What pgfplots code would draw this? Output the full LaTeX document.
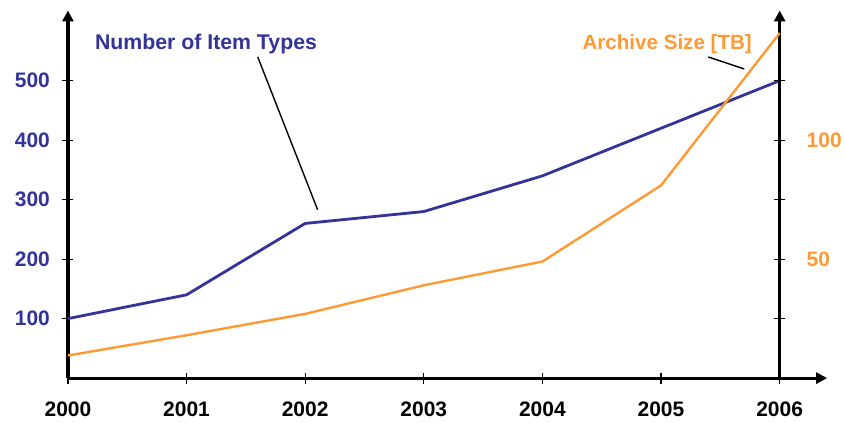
\documentclass[border=0pt]{standalone}
\usepackage{fontspec}
\setmainfont{Liberation Sans}
\usepackage{pgfplots}
\pgfplotsset{compat=1.18}
\usetikzlibrary{arrows.meta}

\definecolor{itemblue}{HTML}{333399}
\definecolor{archorange}{HTML}{FF9933}

\pgfplotstableread{
year items
2000 100
2001 140
2002 260
2003 280
2004 340
2005 420
2006 500
}\itemtypes

\pgfplotstableread{
year tb
2000 9.5
2001 18
2002 27
2003 39
2004 49
2005 81
2006 145
}\archivesize

\tikzset{axarrow/.style={black, line width=3.2pt, -{Triangle[length=11pt,width=11pt]}}}

\begin{document}
\begin{tikzpicture}
\pgfplotsset{
  every axis/.append style={
    scale only axis,
    height=368pt,
    ymin=0,
    tick align=outside,
    major tick length=11pt,
    /pgf/number format/assume math mode=true,
    tick label style={font=\fontsize{21}{25}\selectfont\bfseries},
    every tick/.style={black, line width=1.2pt},
  }
}
\begin{axis}[
  width=760pt,
  xmin=2000, xmax=2006.4,
  ymax=618,
  axis x line=bottom,
  axis y line=left,
  every outer x axis line/.style={draw=none},
  every outer y axis line/.style={draw=none},
  xtick={2000,...,2006},
  xticklabel style={/pgf/number format/1000 sep={}, black, yshift=-15pt},
  ytick={100,200,...,500},
  yticklabel style={color=itemblue, xshift=-9pt},
  clip=false,
]
\draw[axarrow] (rel axis cs:0,0) -- (rel axis cs:1,0);
\draw[axarrow] (rel axis cs:0,0) -- (rel axis cs:0,1);
\addplot[itemblue, line width=2.8pt] table[x=year, y=items] {\itemtypes};
\node[anchor=base west, font=\fontsize{21.3}{25}\selectfont\bfseries, text=itemblue, inner sep=0pt]
  at (axis cs:2000.227,551.6) {Number of Item Types};
\draw[black, line width=1.4pt] (axis cs:2001.6,539.9) -- (axis cs:2002.105,283);
\node[anchor=base west, font=\fontsize{20.6}{25}\selectfont\bfseries, text=archorange, inner sep=0pt]
  at (axis cs:2004.337,551.6) {Archive Size [TB]};
\draw[black, line width=1.4pt] (axis cs:2005.398,539.9) -- (axis cs:2005.701,519.7);
\end{axis}
\begin{axis}[
  width=712.5pt,
  xmin=2000, xmax=2006,
  ymax=154.5,
  axis x line=none,
  axis y line=right,
  every outer y axis line/.style={draw=none},
  ytick={25,50,...,125},
  yticklabels={,50,,100,},
  yticklabel style={color=archorange, xshift=18pt},
  clip=false,
]
\draw[axarrow] (rel axis cs:1,0) -- (rel axis cs:1,1);
\addplot[archorange, line width=2.4pt] table[x=year, y=tb] {\archivesize};
\end{axis}
\path (-68pt,-44.5pt) rectangle (777pt,378.5pt);
\end{tikzpicture}
\end{document}
